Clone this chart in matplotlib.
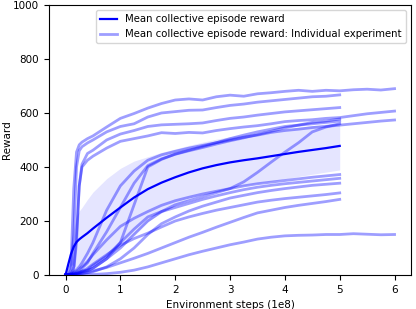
import numpy as np
import matplotlib.pyplot as plt

# x grid (1e8 env steps)
steps5 = [0, 0.05, 0.1, 0.15, 0.2, 0.25, 0.3, 0.4, 0.5, 0.75, 1.0, 1.25, 1.5, 1.75,
          2.0, 2.25, 2.5, 2.75, 3.0, 3.25, 3.5, 3.75, 4.0, 4.25, 4.5, 4.75, 5.0]
steps6 = steps5 + [5.25, 5.5, 5.75, 6.0]

# individual experiments that ran to 6e8
run_a = [0, 5, 40, 320, 455, 482, 492, 505, 515, 548, 580, 598, 618, 635, 648, 652,
         648, 660, 666, 662, 671, 675, 680, 684, 680, 684, 682, 686, 688, 685, 690]
run_d = [0, 0, 5, 30, 150, 330, 400, 425, 440, 470, 495, 505, 515, 527, 524, 528,
         526, 535, 542, 548, 553, 560, 568, 572, 575, 580, 583, 590, 597, 602, 607]
run_e = [0, 2, 5, 10, 20, 30, 45, 80, 120, 240, 330, 385, 425, 445, 458, 470,
         480, 490, 500, 510, 518, 528, 535, 540, 546, 550, 555, 560, 565, 570, 574]
run_l = [0, 0, 0, 0, 0, 1, 1, 2, 2, 5, 10, 18, 30, 45, 60, 75,
         88, 100, 112, 122, 133, 140, 145, 147, 148, 150, 150, 153, 151, 149, 150]

# individual experiments that ran to 5e8
run_b = [0, 2, 20, 150, 400, 460, 475, 489, 500, 530, 550, 560, 585, 600,
         605, 610, 611, 620, 628, 633, 640, 645, 650, 655, 660, 662, 667]
run_c = [0, 1, 5, 20, 120, 330, 410, 450, 462, 500, 522, 535, 550, 556,
         558, 560, 563, 572, 580, 585, 592, 598, 604, 608, 612, 616, 620]
run_g = [0, 1, 3, 6, 10, 15, 25, 45, 80, 160, 250, 340, 405, 430,
         447, 460, 472, 485, 497, 508, 520, 532, 545, 555, 565, 570, 578]
run_h = [0, 1, 2, 3, 5, 8, 12, 18, 25, 60, 120, 260, 400, 428,
         448, 462, 476, 490, 505, 518, 530, 540, 550, 555, 560, 565, 570]
run_f = [0, 0, 1, 2, 4, 6, 10, 15, 25, 60, 100, 150, 200, 235,
         260, 275, 290, 305, 320, 345, 380, 418, 455, 490, 530, 548, 560]
run_m1 = [0, 1, 3, 8, 15, 22, 30, 50, 75, 130, 180, 210, 235, 258,
          275, 288, 300, 310, 320, 330, 338, 344, 350, 356, 362, 367, 372]
run_m2 = [0, 0, 1, 3, 6, 10, 14, 20, 35, 70, 120, 170, 215, 235,
          250, 265, 280, 293, 305, 316, 325, 332, 338, 343, 348, 353, 358]
run_m3 = [0, 0, 0, 1, 2, 3, 5, 8, 12, 30, 60, 100, 150, 190,
          215, 237, 255, 270, 285, 295, 305, 313, 320, 326, 332, 336, 340]
run_j = [0, 0, 1, 3, 6, 10, 15, 25, 40, 75, 110, 135, 155, 178,
         200, 215, 228, 240, 250, 260, 270, 277, 283, 288, 293, 298, 304]
run_k = [0, 0, 0, 1, 2, 4, 6, 10, 15, 28, 45, 62, 80, 100,
         120, 140, 158, 177, 195, 213, 230, 240, 250, 258, 265, 272, 280]

# mean and std over experiments
mean_reward = [0, 40, 78, 105, 122, 132, 140, 155, 172, 212, 250, 287, 318, 342,
               362, 380, 395, 407, 417, 425, 432, 440, 448, 456, 463, 470, 478]
std_reward = [0, 15, 40, 70, 95, 105, 110, 125, 135, 145, 145, 135, 120, 112,
              105, 100, 97, 96, 95, 94, 93, 93, 92, 91, 90, 89, 89]

runs6 = [run_a, run_d, run_e, run_l]
runs5 = [run_b, run_c, run_g, run_h, run_f, run_m1, run_m2, run_m3, run_j, run_k]

plt.rcParams['font.size'] = 7.5

fig = plt.figure(figsize=(4.16, 3.09), dpi=100)
ax = fig.add_subplot(111)
fig.subplots_adjust(left=0.118, right=0.988, bottom=0.110, top=0.984)

m = np.array(mean_reward)
s = np.array(std_reward)
ax.fill_between(steps5, m - s, m + s, color='blue', alpha=0.1, linewidth=0)
ax.plot(steps5, m, color='blue', linewidth=1.6, label='Mean collective episode reward')

first = True
for r in runs6:
    ax.plot(steps6, r, color='blue', alpha=0.38, linewidth=2.0,
            label='Mean collective episode reward: Individual experiment' if first else None)
    first = False
for r in runs5:
    ax.plot(steps5, r, color='blue', alpha=0.38, linewidth=2.0)

ax.set_ylim(0, 1000)
ax.set_xlabel('Environment steps (1e8)')
ax.set_ylabel('Reward', labelpad=1)
ax.legend(loc='upper right', fontsize=7.3, handlelength=1.7)

plt.savefig('out.png')
